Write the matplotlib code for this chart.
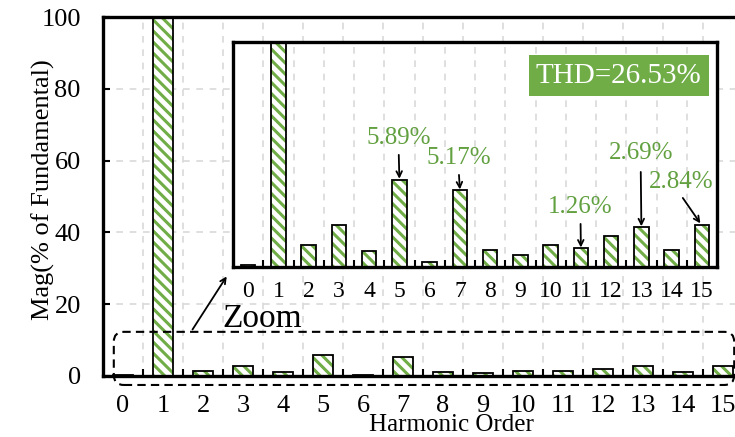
import matplotlib
matplotlib.use("Agg")
import matplotlib.pyplot as plt
from matplotlib.patches import FancyBboxPatch
import numpy as np

plt.rcParams['font.family'] = ['Liberation Serif', 'DejaVu Serif']
plt.rcParams['hatch.linewidth'] = 2.2

# harmonic spectrum (% of fundamental)
orders = list(range(16))
mags = [0.15, 100, 1.50, 2.85, 1.08, 5.89, 0.36, 5.17, 1.12, 0.83,
        1.50, 1.26, 2.07, 2.69, 1.17, 2.84]
thd_text = "THD=26.53%"
marked = [5, 7, 11, 13, 15]
marked_labels = ["5.89%", "5.17%", "1.26%", "2.69%", "2.84%"]

green = '#70AD47'
text_green = '#62A040'
grid_kw = dict(color='#d9d9d9', linestyle=(0, (4, 4)), linewidth=1.2)


def hatched_bars(ax, x, y):
    ax.bar(x, y, width=0.48, color='white', edgecolor=green, hatch='\\\\\\',
           linewidth=0, zorder=2)
    ax.bar(x, y, width=0.48, fill=False, edgecolor='black', linewidth=1.3,
           zorder=3)


def style_xaxis(ax, labelsize, pad):
    ax.set_xlim(-0.5, 15.5)
    ax.set_xticks(np.arange(0.5, 15, 1))
    ax.set_xticklabels([])
    ax.set_xticks(orders, minor=True)
    ax.set_xticklabels([str(o) for o in orders], minor=True, fontsize=labelsize)
    ax.tick_params(axis='x', which='major', direction='in', length=5, width=1.5)
    ax.tick_params(axis='x', which='minor', length=0, pad=pad)
    ax.xaxis.grid(True, which='major', **grid_kw)


fig = plt.figure(figsize=(7.35, 4.37), dpi=100)

# main axes (right edge runs past the figure, like the original crop)
ax = fig.add_axes([103 / 735, 61 / 437, 640 / 735, 359 / 437])
hatched_bars(ax, orders, mags)
style_xaxis(ax, 19, 14)
ax.set_ylim(0, 100)
ax.set_yticks([0, 20, 40, 60, 80, 100])
ax.tick_params(axis='y', direction='in', length=5, width=1.5, labelsize=19, pad=16)
ax.yaxis.grid(True, **grid_kw)
ax.set_axisbelow(True)
for s in ax.spines.values():
    s.set_linewidth(2.4)
ax.set_ylabel("Mag(% of Fundamental)", fontsize=19)
ax.yaxis.set_label_coords(-0.075, 0.518)
ax.set_xlabel("Harmonic Order", fontsize=18)
ax.xaxis.set_label_coords(0.544, -0.106)

# dashed "zoom" region around the low bars
box = FancyBboxPatch((-0.23, -2.5), 15.51, 14.8,
                     boxstyle="round,pad=0,rounding_size=0.25",
                     mutation_aspect=11, fill=False, edgecolor='black',
                     linestyle=(0, (4, 2.5)), linewidth=1.5, clip_on=False, zorder=5)
ax.add_patch(box)
ax.annotate('', xy=(2.63, 28.4), xytext=(1.7, 12.3),
            arrowprops=dict(arrowstyle='->', color='black', lw=1.3), zorder=6)
ax.text(3.48, 16.0, "Zoom", fontsize=24, ha='center', va='center', zorder=6)

# inset with the harmonic detail
ins = fig.add_axes([233 / 735, 170 / 437, 484 / 735, 225 / 437])
ins.set_facecolor('white')
hatched_bars(ins, orders, mags)
style_xaxis(ins, 17, 10)
ins.set_ylim(0, 15.15)
ins.set_yticks([])
ins.set_axisbelow(True)
for s in ins.spines.values():
    s.set_linewidth(2.4)

ins.text(0.797, 0.851, thd_text, transform=ins.transAxes, fontsize=21,
         color='white', ha='center', va='center',
         bbox=dict(boxstyle='square,pad=0.25', facecolor=green, edgecolor='none'))

text_pos = [(4.98, 8.69), (6.97, 7.34), (10.99, 4.04), (12.98, 7.68), (14.3, 5.72)]
arrow_tail = [(4.98, 7.55), (6.97, 6.2), (10.99, 2.9), (12.98, 6.4), (14.37, 4.65)]
for i, o in enumerate(marked):
    ins.text(text_pos[i][0], text_pos[i][1], marked_labels[i], fontsize=18,
             color=text_green, ha='center', va='center', zorder=6)
    head = (o, mags[o] + 0.05) if o != 15 else (o - 0.05, mags[o] + 0.1)
    ins.annotate('', xy=head, xytext=arrow_tail[i],
                 arrowprops=dict(arrowstyle='->', color='black', lw=1.3,
                                 shrinkA=0, shrinkB=0), zorder=6)

fig.savefig("out.png", dpi=100)
